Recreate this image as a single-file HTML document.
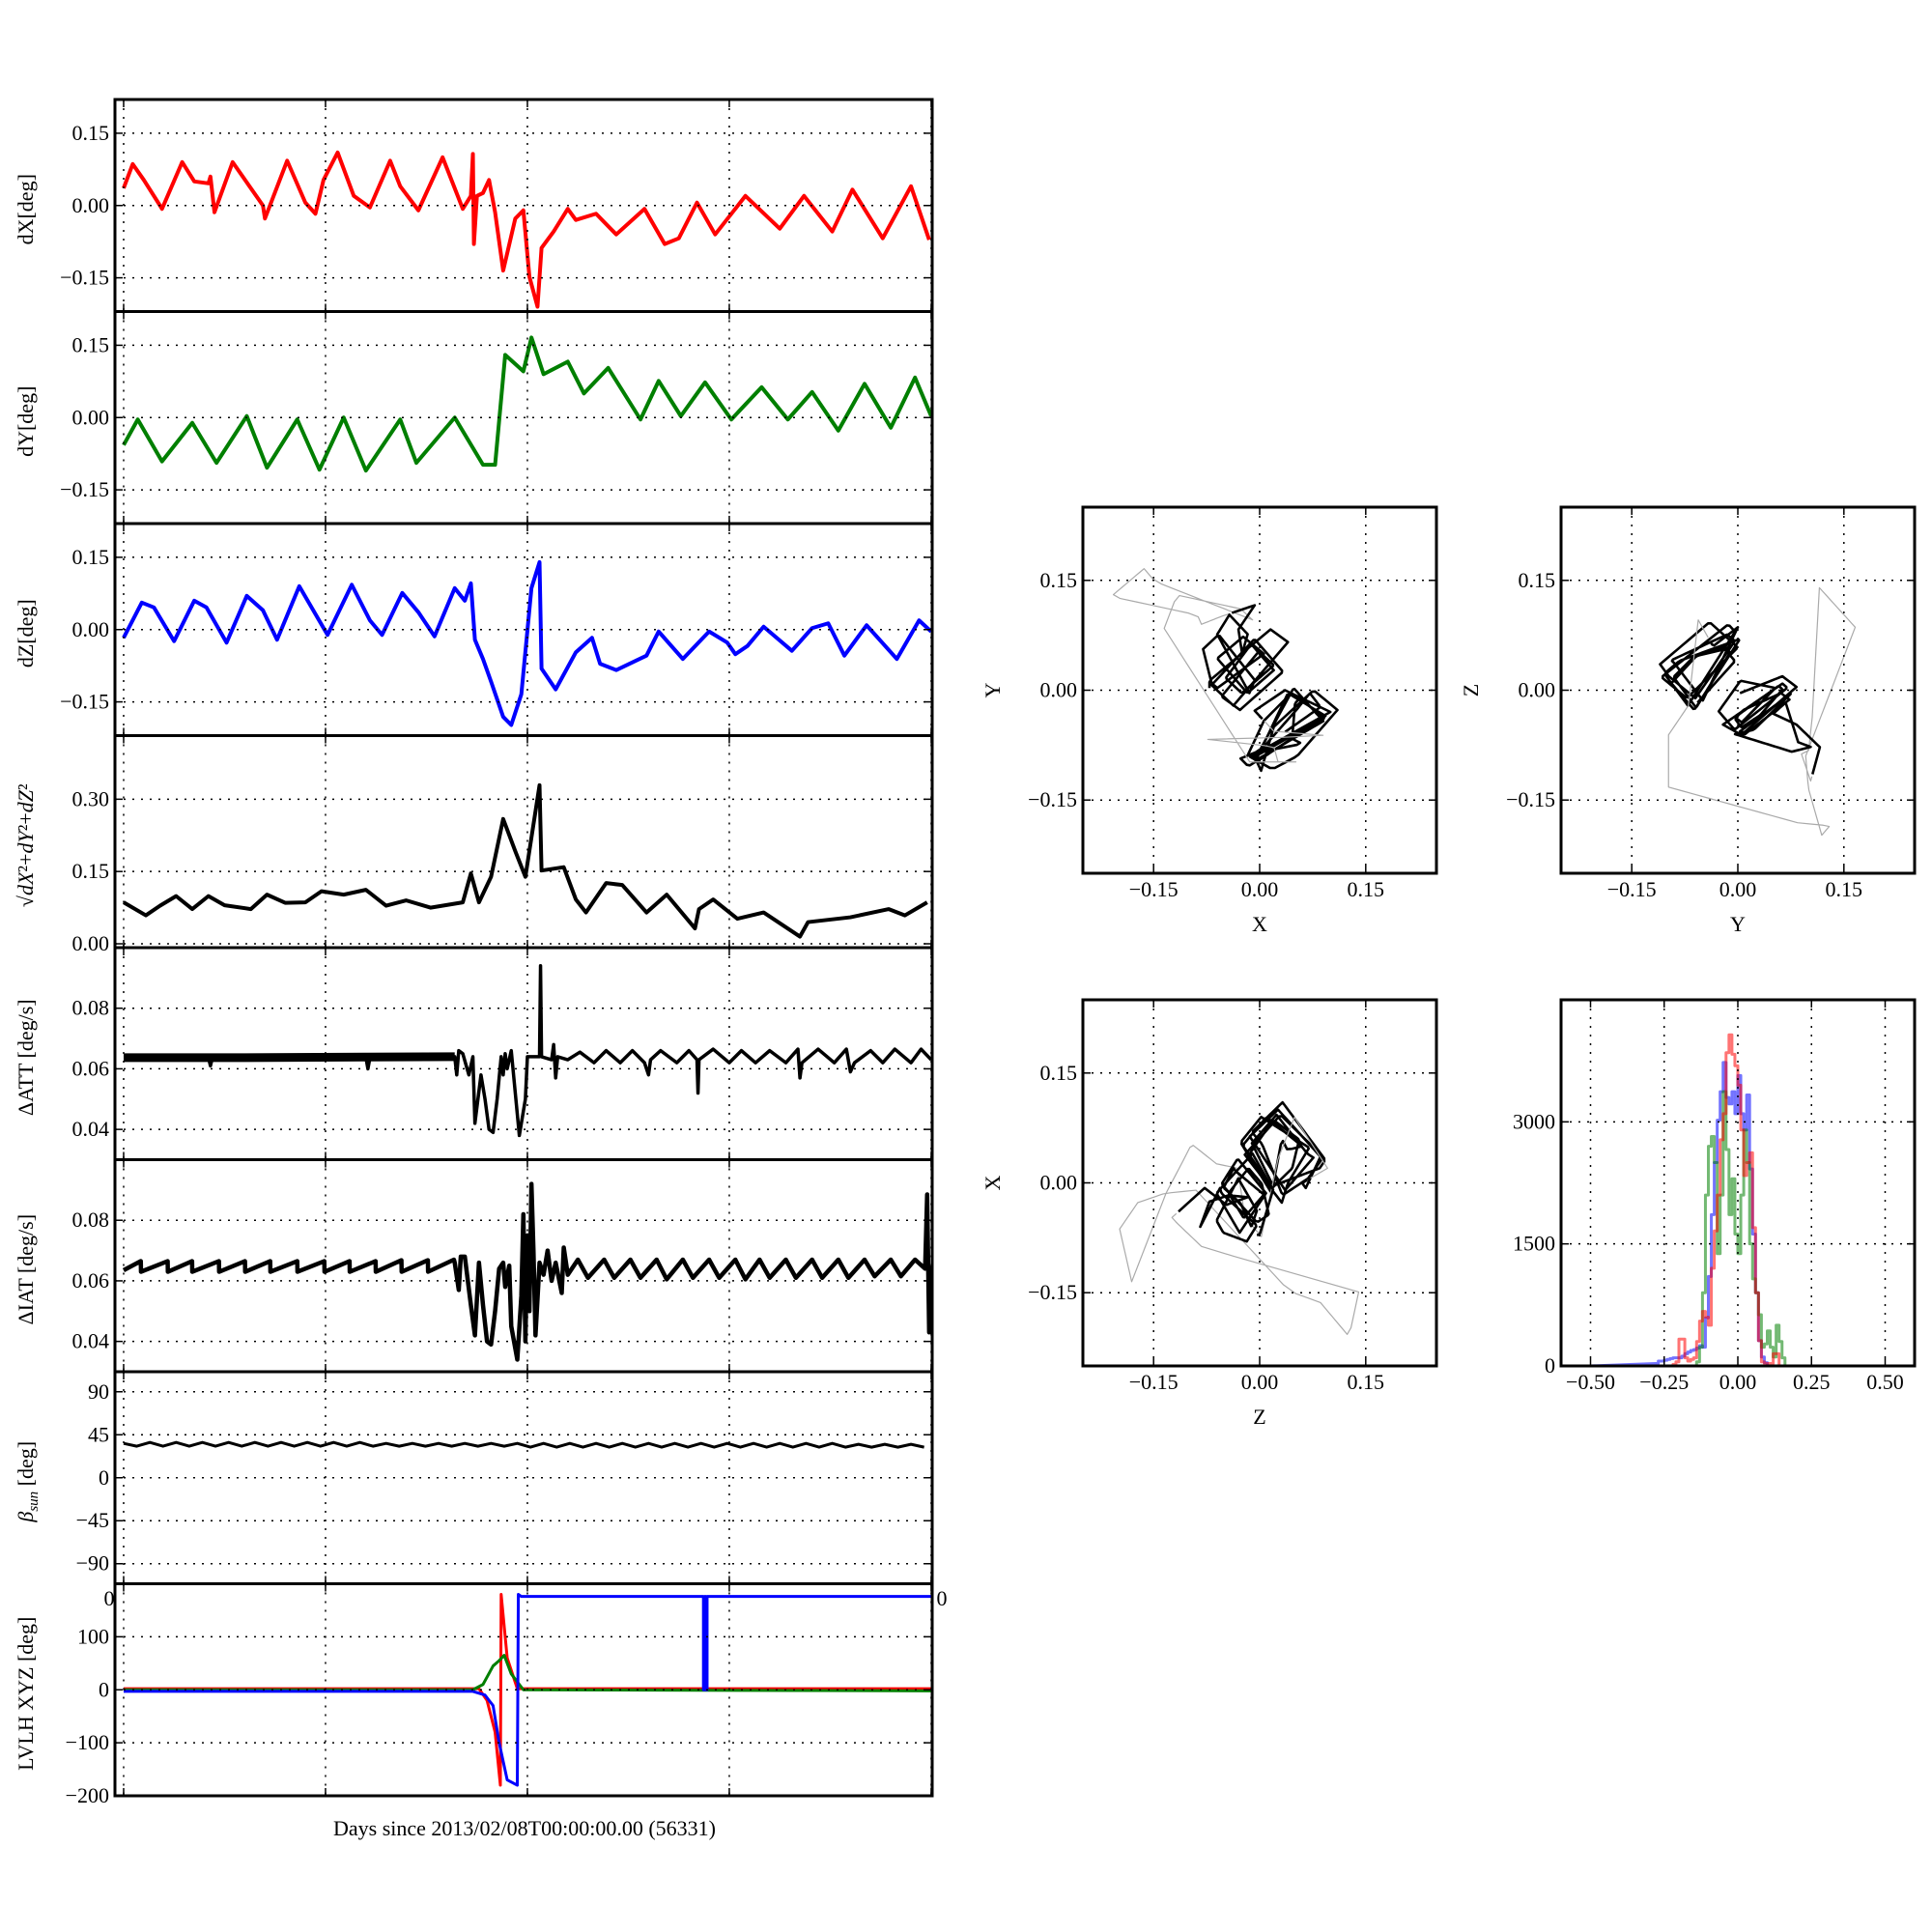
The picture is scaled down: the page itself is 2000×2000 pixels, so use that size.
<!DOCTYPE html>
<html><head><meta charset="utf-8">
<style>
html,body{margin:0;padding:0;background:#fff;}
svg{display:block;font-family:"Liberation Serif","DejaVu Serif",serif;}
</style></head>
<body>
<svg id="fig" width="2000" height="2000" viewBox="0 0 2000 2000" xmlns="http://www.w3.org/2000/svg">
<rect x="0" y="0" width="2000" height="2000" fill="#fff"/>
<text x="543" y="1900" font-size="22" text-anchor="middle">Days since 2013/02/08T00:00:00.00 (56331)</text>
</svg>
<script>
// ---------------- data ----------------
const dX = [[0,.036],[.045,.086],[.1,.053],[.18,0],[.19,-.007],[.29,.09],[.35,.05],[.42,.046],[.43,.06],[.45,-.014],[.54,.09],[.69,0],[.70,-.027],[.81,.093],[.9,.006],[.95,-.017],[.99,.053],[1.06,.11],[1.14,.02],[1.22,-.004],[1.32,.093],[1.37,.04],[1.46,-.01],[1.58,.1],[1.68,-.007],[1.72,.02],[1.73,.107],[1.735,-.08],[1.75,.02],[1.78,.026],[1.81,.053],[1.84,-.014],[1.88,-.135],[1.94,-.027],[1.98,-.01],[2.01,-.148],[2.05,-.21],[2.07,-.088],[2.13,-.054],[2.2,-.007],[2.24,-.03],[2.34,-.017],[2.44,-.06],[2.58,-.007],[2.68,-.08],[2.75,-.068],[2.84,.006],[2.93,-.06],[3.08,.02],[3.25,-.048],[3.37,.02],[3.51,-.054],[3.61,.033],[3.76,-.068],[3.9,.04],[3.99,-.071]];
const dY = [[0,-.057],[.07,-.004],[.19,-.091],[.34,-.011],[.46,-.094],[.61,.003],[.71,-.104],[.86,-.004],[.97,-.108],[1.09,0],[1.2,-.11],[1.37,-.004],[1.45,-.094],[1.64,0],[1.78,-.098],[1.84,-.098],[1.89,.13],[1.98,.096],[2.02,.166],[2.08,.09],[2.2,.116],[2.28,.05],[2.4,.103],[2.56,-.004],[2.65,.076],[2.76,.003],[2.88,.073],[3.01,-.004],[3.16,.063],[3.29,-.004],[3.41,.053],[3.54,-.027],[3.67,.07],[3.8,-.021],[3.92,.083],[4.0,.003]];
const dZ = [[0,-.017],[.09,.056],[.15,.046],[.25,-.024],[.35,.06],[.41,.046],[.51,-.027],[.61,.07],[.69,.04],[.76,-.021],[.87,.09],[1.01,-.011],[1.13,.093],[1.22,.019],[1.28,-.011],[1.38,.076],[1.46,.036],[1.54,-.014],[1.64,.086],[1.69,.06],[1.72,.096],[1.74,-.021],[1.78,-.061],[1.82,-.108],[1.88,-.181],[1.92,-.198],[1.97,-.134],[2.02,.086],[2.06,.14],[2.07,-.081],[2.14,-.124],[2.24,-.047],[2.32,-.017],[2.36,-.071],[2.44,-.084],[2.59,-.054],[2.65,-.004],[2.77,-.061],[2.9,-.004],[2.99,-.027],[3.03,-.051],[3.09,-.034],[3.17,.006],[3.31,-.044],[3.41,.003],[3.49,.013],[3.57,-.054],[3.68,.009],[3.83,-.061],[3.94,.019],[4.0,-.004]];
const dMag = [[0,.086],[.11,.059],[.18,.079],[.26,.099],[.34,.072],[.42,.099],[.5,.08],[.63,.072],[.71,.102],[.8,.085],[.9,.086],[.98,.109],[1.09,.102],[1.2,.112],[1.3,.079],[1.4,.09],[1.52,.075],[1.68,.086],[1.72,.146],[1.76,.086],[1.82,.139],[1.88,.259],[1.94,.192],[1.99,.139],[2.06,.329],[2.07,.152],[2.18,.159],[2.24,.092],[2.29,.065],[2.39,.126],[2.47,.122],[2.59,.065],[2.69,.102],[2.83,.032],[2.85,.072],[2.92,.092],[3.04,.052],[3.17,.065],[3.35,.015],[3.39,.045],[3.6,.055],[3.79,.072],[3.87,.059],[3.98,.086]];
const attBase = [[0,.0637],[0.6,.0637],[1.2,.0639],[1.64,.064]];
const att = [[0,.0637],[.42,.0637],[.43,.061],[.44,.0637],[1.2,.0637],[1.21,.060],[1.22,.0637],[1.64,.064],[1.65,.058],[1.66,.066],[1.68,.065],[1.71,.058],[1.73,.064],[1.74,.042],[1.77,.058],[1.79,.050],[1.81,.040],[1.83,.039],[1.85,.05],[1.87,.064],[1.88,.058],[1.89,.065],[1.9,.060],[1.92,.066],[1.95,.045],[1.96,.038],[1.99,.05],[2.0,.064],[2.06,.064],[2.065,.094],[2.07,.064],[2.12,.063],[2.13,.068],[2.14,.057],[2.15,.064],[2.2,.063],[2.26,.0655],[2.33,.062],[2.39,.066],[2.46,.062],[2.52,.066],[2.58,.062],[2.6,.058],[2.61,.063],[2.66,.066],[2.74,.062],[2.8,.066],[2.84,.063],[2.845,.052],[2.85,.063],[2.92,.0665],[3.0,.062],[3.06,.066],[3.13,.062],[3.2,.066],[3.28,.062],[3.34,.0665],[3.35,.057],[3.36,.062],[3.44,.0665],[3.52,.062],[3.58,.0665],[3.6,.059],[3.62,.062],[3.7,.066],[3.76,.062],[3.82,.0665],[3.9,.062],[3.95,.0665],[4.0,.063]];
const iat = [[0,.0635],[.085,.0665],[.086,.063],[.218,.0665],[.219,.063],[.339,.0665],[.34,.063],[.472,.0665],[.473,.063],[.601,.0665],[.602,.063],[.726,.0665],[.727,.063],[.86,.0665],[.861,.063],[.994,.0665],[.995,.063],[1.119,.0665],[1.12,.063],[1.248,.0665],[1.249,.063],[1.376,.0668],[1.377,.063],[1.507,.0668],[1.508,.063],[1.636,.067],[1.64,.066],[1.66,.057],[1.67,.068],[1.69,.068],[1.72,.052],[1.74,.042],[1.76,.066],[1.78,.052],[1.8,.040],[1.82,.039],[1.84,.05],[1.86,.064],[1.88,.066],[1.89,.058],[1.91,.065],[1.92,.045],[1.95,.034],[1.97,.055],[1.98,.082],[1.99,.04],[2.0,.075],[2.01,.05],[2.02,.092],[2.03,.07],[2.04,.042],[2.06,.066],[2.08,.062],[2.1,.07],[2.12,.06],[2.14,.066],[2.17,.056],[2.18,.071],[2.2,.062],[2.25,.067],[2.3,.061],[2.38,.067],[2.43,.061],[2.51,.067],[2.56,.061],[2.64,.067],[2.69,.0605],[2.77,.067],[2.82,.061],[2.9,.067],[2.95,.061],[3.03,.067],[3.08,.0605],[3.15,.067],[3.2,.061],[3.28,.067],[3.33,.061],[3.41,.067],[3.46,.061],[3.54,.067],[3.59,.061],[3.67,.067],[3.72,.0615],[3.8,.067],[3.85,.0615],[3.92,.067],[3.97,.064],[3.98,.0885],[3.99,.043],[4.0,.065]];
const betaStep = 0.065;
const betaVals = [36,33,37,33,37,33,37,33,37,33,37,33,37,33,37,33,37,33,37,33,36,33,36,33,36,33,36,33,36,33,36,32,36,32,36,32,36,32,36,32,36,32,36,32,36,32,36,32,36,32,36,32,36,32,36,32,35,32,35,32,35,32];
const lvlhX = [[0,2],[1.76,2],[1.8,-20],[1.84,-80],[1.866,-180],[1.87,180],[1.9,60],[1.95,2],[4.0,2]];
const lvlhY = [[0,0],[1.73,0],[1.78,10],[1.83,45],[1.86,55],[1.885,65],[1.92,30],[1.98,0],[4.0,-2]];
const lvlhZ = [[0,-3],[1.73,-3],[1.79,-10],[1.83,-30],[1.86,-100],[1.9,-170],[1.95,-180],[1.955,180],[1.97,176],[2.0,176],[2.872,176],[2.872,0],[2.878,0],[2.878,176],[2.884,176],[2.884,0],[2.89,0],[2.89,176],[4.0,176]];
const histBins = [-0.28,-0.27,-0.26,-0.25,-0.24,-0.23,-0.22,-0.21,-0.2,-0.19,-0.18,-0.17,-0.16,-0.15,-0.14,-0.13,-0.12,-0.11,-0.1,-0.09,-0.08,-0.07,-0.06,-0.05,-0.04,-0.03,-0.02,-0.01,0,0.01,0.02,0.03,0.04,0.05,0.06,0.07,0.08,0.09,0.1,0.11,0.12,0.13,0.14,0.15,0.16];
const histX = [0,0,0,0,0,0,20,50,330,330,100,60,80,100,300,550,670,600,500,1200,1660,2100,2780,3100,3850,4070,3830,3690,3450,2900,2340,2500,2620,1700,900,310,50,30,30,30,150,150,0,0,0];
const histY = [0,0,0,0,0,0,0,0,0,0,0,0,0,0,50,230,900,2100,2700,2820,2500,1380,2100,3370,2660,1860,2300,1620,1380,2100,2900,2500,1500,1070,900,630,230,270,430,230,110,500,300,100,0];
const histZ = [30,60,60,70,80,90,100,100,100,120,150,170,190,200,220,250,230,590,1100,1860,2500,3020,3370,3730,3300,3220,3370,3100,3570,3100,2900,3330,2420,1620,900,310,110,40,0,0,0,0,0,0,0];

// ---------------- helpers ----------------
const NS = 'http://www.w3.org/2000/svg';
const svg = document.getElementById('fig');
function mk(tag, attrs, parent) {
  const e = document.createElementNS(NS, tag);
  for (const k in attrs) e.setAttribute(k, attrs[k]);
  (parent || svg).appendChild(e);
  return e;
}
let clipId = 0;
function makeAxes(box, xd, yd) {
  const sx = v => box.x + (v - xd[0]) / (xd[1] - xd[0]) * box.w;
  const sy = v => box.y + (yd[1] - v) / (yd[1] - yd[0]) * box.h;
  clipId++;
  const cp = mk('clipPath', {id: 'c' + clipId});
  mk('rect', {x: box.x, y: box.y, width: box.w, height: box.h}, cp);
  const g = mk('g', {'clip-path': 'url(#c' + clipId + ')'});
  return {sx, sy, g, box};
}
function grid(ax, xt, yt, name) {
  const b = ax.box;
  xt.forEach(v => {
    const l = mk('line', {x1: ax.sx(v), x2: ax.sx(v), y1: b.y, y2: b.y + b.h, stroke: '#000', 'stroke-width': 1.5, 'stroke-dasharray': '2,7'});
    
    
    mk('line', {x1: ax.sx(v), x2: ax.sx(v), y1: b.y + b.h, y2: b.y + b.h - 8, stroke: '#000', 'stroke-width': 1.5});
    mk('line', {x1: ax.sx(v), x2: ax.sx(v), y1: b.y, y2: b.y + 8, stroke: '#000', 'stroke-width': 1.5});
  });
  yt.forEach(v => {
    const l = mk('line', {x1: b.x, x2: b.x + b.w, y1: ax.sy(v), y2: ax.sy(v), stroke: '#000', 'stroke-width': 1.5, 'stroke-dasharray': '2,7'});
    
    
    mk('line', {x1: b.x, x2: b.x + 8, y1: ax.sy(v), y2: ax.sy(v), stroke: '#000', 'stroke-width': 1.5});
    mk('line', {x1: b.x + b.w, x2: b.x + b.w - 8, y1: ax.sy(v), y2: ax.sy(v), stroke: '#000', 'stroke-width': 1.5});
  });
}
function frame(ax, name) {
  const b = ax.box;
  const r = mk('rect', {x: b.x, y: b.y, width: b.w, height: b.h, fill: 'none', stroke: '#000', 'stroke-width': 3});
  
  
}
function yLabels(ax, vals, labels, name) {
  vals.forEach((v, i) => {
    const t = mk('text', {x: ax.box.x - 6, y: ax.sy(v) + 7, 'font-size': 22, 'text-anchor': 'end'});
    t.textContent = labels[i];
    
    
  });
}
function xLabels(ax, vals, labels, name) {
  vals.forEach((v, i) => {
    const t = mk('text', {x: ax.sx(v), y: ax.box.y + ax.box.h + 24, 'font-size': 22, 'text-anchor': 'middle'});
    t.textContent = labels[i];
    
    
  });
}
function series(ax, pts, color, width, name, opacity) {
  const d = pts.map((p, i) => (i ? 'L' : 'M') + ax.sx(p[0]).toFixed(2) + ',' + ax.sy(p[1]).toFixed(2)).join('');
  const p = mk('path', {d: d, fill: 'none', stroke: color, 'stroke-width': width, 'stroke-linejoin': 'round', 'stroke-opacity': opacity || 1}, ax.g);
  
  
  return p;
}
function ylabel(x, y, html, name) {
  const t = mk('text', {x: x, y: y, 'font-size': 22, 'text-anchor': 'middle', transform: 'rotate(-90 ' + x + ' ' + y + ')'});
  t.innerHTML = html;
  
  
}
function label(x, y, txt, name) {
  const t = mk('text', {x: x, y: y, 'font-size': 22, 'text-anchor': 'middle'});
  t.textContent = txt;
  
  
}

// ---------------- left time-series panels ----------------
const LX = 119, LW = 846, PH = 219.5, TOP = 103;
const dayDom = [-0.043, 4.005];
const days = [0, 1, 2, 3, 4];
const panels = [
  {yd: [-0.22, 0.22], ticks: [0.15, 0, -0.15], labs: ['0.15', '0.00', '\u22120.15'], lab: 'dX[deg]', name: 'dx-panel'},
  {yd: [-0.22, 0.22], ticks: [0.15, 0, -0.15], labs: ['0.15', '0.00', '\u22120.15'], lab: 'dY[deg]', name: 'dy-panel'},
  {yd: [-0.22, 0.22], ticks: [0.15, 0, -0.15], labs: ['0.15', '0.00', '\u22120.15'], lab: 'dZ[deg]', name: 'dz-panel'},
  {yd: [-0.008, 0.432], ticks: [0.3, 0.15, 0], labs: ['0.30', '0.15', '0.00'], lab: '√<tspan font-style="italic">dX</tspan>²+<tspan font-style="italic">dY</tspan>²+<tspan font-style="italic">dZ</tspan>²', name: 'magnitude-panel'},
  {yd: [0.03, 0.10], ticks: [0.08, 0.06, 0.04], labs: ['0.08', '0.06', '0.04'], lab: 'ΔATT [deg/s]', name: 'datt-panel'},
  {yd: [0.03, 0.10], ticks: [0.08, 0.06, 0.04], labs: ['0.08', '0.06', '0.04'], lab: 'ΔIAT [deg/s]', name: 'diat-panel'},
  {yd: [-111, 111], ticks: [90, 45, 0, -45, -90], labs: ['90', '45', '0', '\u221245', '\u221290'], lab: '<tspan font-style="italic">β</tspan><tspan font-size="15" dy="5" font-style="italic">sun</tspan><tspan dy="-5"> [deg]</tspan>', name: 'beta-panel'},
  {yd: [-200, 200], ticks: [100, 0, -100, -200], labs: ['100', '0', '\u2212100', '\u2212200'], lab: 'LVLH XYZ [deg]', name: 'lvlh-panel'}
];
const axes = panels.map((p, i) => {
  const ax = makeAxes({x: LX, y: TOP + i * PH, w: LW, h: PH}, dayDom, p.yd);
  grid(ax, days, p.ticks, p.name);
  yLabels(ax, p.ticks, p.labs, p.name);
  ylabel(34, TOP + i * PH + PH / 2 + 4, p.lab, p.name + '-ylabel');
  return ax;
});
series(axes[0], dX, '#ff0000', 4, 'dx-line');
series(axes[1], dY, '#007f00', 4, 'dy-line');
series(axes[2], dZ, '#0000ff', 4, 'dz-line');
series(axes[3], dMag, '#000', 4, 'magnitude-line');
series(axes[4], attBase, '#000', 9, 'datt-band');
series(axes[4], att, '#000', 3.5, 'datt-line');
series(axes[5], iat, '#000', 4.5, 'diat-line');
const beta = betaVals.map((v, i) => [i * betaStep, v]);
series(axes[6], beta, '#000', 3, 'beta-sun-line');
series(axes[7], lvlhX, '#ff0000', 3, 'lvlh-x-line');
series(axes[7], lvlhY, '#007f00', 3, 'lvlh-y-line');
series(axes[7], lvlhZ, '#0000ff', 3, 'lvlh-z-line');
panels.forEach((p, i) => frame(axes[i], p.name));
label(113, 1662, '0', 'lvlh-top-tick-label');
label(975, 1662, '0', 'lvlh-right-tick-label');

// ---------------- scatter panels ----------------
function interp(arr, t) {
  if (t <= arr[0][0]) return arr[0][1];
  for (let i = 1; i < arr.length; i++) {
    if (t <= arr[i][0]) {
      const a = arr[i - 1], b = arr[i];
      const f = b[0] === a[0] ? 0 : (t - a[0]) / (b[0] - a[0]);
      return a[1] + f * (b[1] - a[1]);
    }
  }
  return arr[arr.length - 1][1];
}
const sTicks = [-0.15, 0, 0.15];
const sLabs = ['\u22120.15', '0.00', '0.15'];
const scat = [
  {box: {x: 1121, y: 525, w: 366, h: 379}, xs: dX, ys: dY, xl: 'X', yl: 'Y', name: 'scatter-xy'},
  {box: {x: 1616, y: 525, w: 366, h: 379}, xs: dY, ys: dZ, xl: 'Y', yl: 'Z', name: 'scatter-yz'},
  {box: {x: 1121, y: 1035, w: 366, h: 379}, xs: dZ, ys: dX, xl: 'Z', yl: 'X', name: 'scatter-zx'}
];
scat.forEach(s => {
  const ax = makeAxes(s.box, [-0.25, 0.25], [-0.25, 0.25]);
  grid(ax, sTicks, sTicks, s.name);
  const pre = [], mid = [], post = [];
  for (let t = 0; t <= 4.0001; t += 0.004) {
    const pt = [interp(s.xs, t), interp(s.ys, t)];
    if (t < 1.7) pre.push(pt); else if (t < 2.15) mid.push(pt); else post.push(pt);
  }
  series(ax, pre, '#000', 2.6, s.name + '-points-before');
  series(ax, mid, '#aaa', 1.2, s.name + '-points-transition');
  series(ax, post, '#000', 2.6, s.name + '-points-after');
  frame(ax, s.name);
  yLabels(ax, sTicks, sLabs, s.name);
  xLabels(ax, sTicks, sLabs, s.name);
  label(s.box.x + s.box.w / 2, s.box.y + s.box.h + 60, s.xl, s.name + '-xlabel');
  ylabel(s.box.x - 86, s.box.y + s.box.h / 2, s.yl, s.name + '-ylabel');
});

// ---------------- histogram ----------------
const hax = makeAxes({x: 1616, y: 1035, w: 366, h: 379}, [-0.6, 0.6], [0, 4500]);
const hxt = [-0.5, -0.25, 0, 0.25, 0.5];
grid(hax, hxt, [1500, 3000], 'histogram');
function stepPts(counts) {
  const pts = [[-0.5, 0]];
  histBins.forEach((b, i) => { pts.push([b, counts[i]]); pts.push([b + 0.01, counts[i]]); });
  pts.push([histBins[histBins.length - 1] + 0.01, 0]);
  pts.push([0.5, 0]);
  return pts;
}
series(hax, stepPts(histZ), '#0000ff', 3, 'hist-dz', 0.55);
series(hax, stepPts(histY), '#007f00', 3, 'hist-dy', 0.55);
series(hax, stepPts(histX), '#ff0000', 3, 'hist-dx', 0.55);
frame(hax, 'histogram');
yLabels(hax, [0, 1500, 3000], ['0', '1500', '3000'], 'histogram');
xLabels(hax, hxt, ['\u22120.50', '\u22120.25', '0.00', '0.25', '0.50'], 'histogram');
</script>
</body></html>
